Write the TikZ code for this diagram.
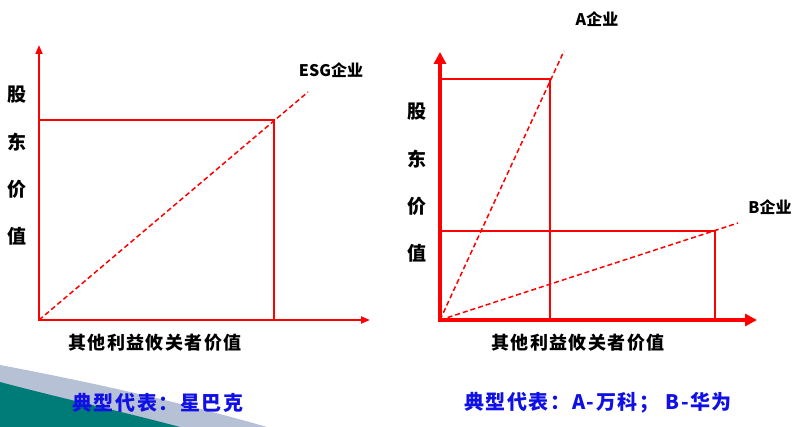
\documentclass[tikz,border=0pt]{standalone}
\usepackage{fontspec}
\setmainfont{Noto Sans CJK SC}
\usetikzlibrary{arrows.meta}
\definecolor{repblue}{RGB}{15,15,230}
\definecolor{bandgrey}{RGB}{183,193,214}
\definecolor{teal}{RGB}{0,124,120}
\tikzset{
    axis/.style={red,line width=2pt,{Triangle[length=9pt,width=7pt]}-{Triangle[length=9pt,width=7pt]}},
    thickaxis/.style={red,line width=4pt,{Triangle[length=12pt,width=12pt]}-{Triangle[length=12pt,width=12pt]}},
    guide/.style={red,line width=1.5pt},
    trend/.style={red,line width=1.5pt,dash pattern=on 5pt off 3pt},
    firm/.style={font=\bfseries\fontsize{16}{16}\selectfont},
    ylabel/.style={font=\bfseries\fontsize{19}{19}\selectfont},
    axlabel/.style={font=\bfseries\fontsize{18}{18}\selectfont\addfontfeature{LetterSpace=8}},
    rep/.style={text=repblue,font=\bfseries\fontsize{20}{20}\selectfont\addfontfeature{LetterSpace=8}}
}
\begin{document}
\begin{tikzpicture}[x=1pt,y=-1pt]
        \useasboundingbox (0,0) rectangle (800,427);
        %% background corner
        \fill[bandgrey] (0,365) .. controls (90,382) and (180,402) .. (267,427) -- (0,427) -- cycle;
        \fill[teal] (0,382) .. controls (60,398) and (120,411) .. (180,427) -- (0,427) -- cycle;
        %% left chart
        \coordinate (O1) at (39,320);
        \coordinate (Y1) at (39,45);
        \coordinate (X1) at (370,320);
        \coordinate (P1) at (274,120);
        \coordinate (E1) at (308,92);
        \draw[guide] (P1 -| O1) -| (P1 |- O1);
        \draw[trend] (O1) -- (E1);
        \draw[axis] (Y1) |- (X1);
        \node[firm] (esg) at (331,70) {ESG企业};
        \foreach \c [count=\i] in {股,东,价,值}
            \node[ylabel] (yl\i) at (17,95+47*\i-47) {\c};
        \node[axlabel] (xl1) at (155,343) {其他利益攸关者价值};
        \node[rep] (rep1) at (158,403) {典型代表：星巴克};
        %% right chart
        \coordinate (O2) at (440,320);
        \coordinate (Y2) at (440,52);
        \coordinate (X2) at (757,320);
        \coordinate (PA) at (550,79);
        \coordinate (EA) at (564,51);
        \coordinate (PB) at (715,231);
        \coordinate (EB) at (738,223);
        \draw[guide] (PA -| O2) -| (PA |- O2);
        \draw[guide] (PB -| O2) -| (PB |- O2);
        \draw[trend] (O2) -- (EA);
        \draw[trend] (O2) -- (EB);
        \draw[thickaxis] (Y2) |- (X2);
        \node[firm] (firmA) at (597,19) {A企业};
        \node[firm] (firmB) at (770,207) {B企业};
        \foreach \c [count=\i] in {股,东,价,值}
            \node[ylabel] (yr\i) at (417,112+47*\i-47) {\c};
        \node[axlabel] (xl2) at (578,343) {其他利益攸关者价值};
        \node[rep] (rep2) at (598,403) {典型代表：A-万科； B-华为};
    \end{tikzpicture}
\end{document}
